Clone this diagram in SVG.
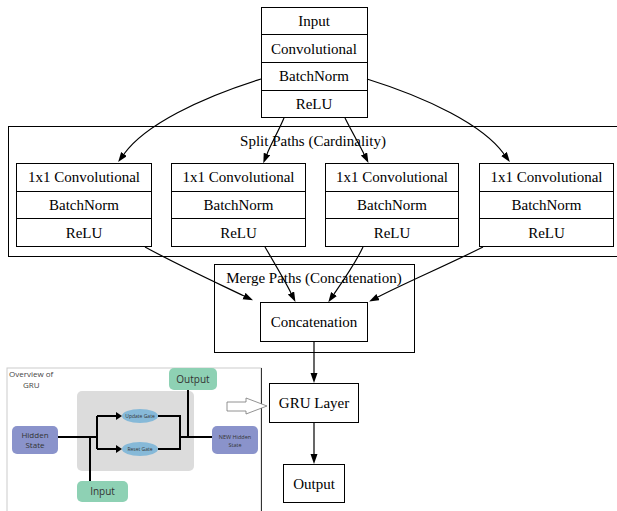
<svg xmlns="http://www.w3.org/2000/svg" width="617" height="511" viewBox="0 0 617 511">
<style>
.box{fill:#fff;stroke:#000;stroke-width:1}
.cl{fill:none;stroke:#000;stroke-width:1}
.t{font-family:"Liberation Serif","Times New Roman",serif;font-size:15px;fill:#000;text-anchor:middle}
.e{fill:none;stroke:#000;stroke-width:1.2}
.s{font-family:"Open Sans","Liberation Sans",sans-serif;fill:#333;text-anchor:middle}
.w{fill:none;stroke:#000;stroke-width:2}
</style>
<defs>
<marker id="ah" markerUnits="userSpaceOnUse" markerWidth="11" markerHeight="8" refX="0" refY="3.5" orient="auto">
<path d="M0,0 L10,3.5 L0,7 z" fill="#000"/>
</marker>
</defs>
<rect width="617" height="511" fill="#fff"/>

<g id="cluster_split">
<rect class="cl" x="8.5" y="126.5" width="612" height="130"/>
<text class="t" x="313" y="146">Split Paths (Cardinality)</text>
</g>
<g id="cluster_merge">
<rect class="cl" x="214.5" y="264.5" width="200" height="88"/>
<text class="t" x="314" y="283">Merge Paths (Concatenation)</text>
</g>

<g id="input">
<rect class="box" x="261.5" y="7.5" width="106" height="110"/>
<line class="box" x1="261.5" y1="34.5" x2="367.5" y2="34.5"/>
<line class="box" x1="261.5" y1="62.5" x2="367.5" y2="62.5"/>
<line class="box" x1="261.5" y1="90.5" x2="367.5" y2="90.5"/>
<text class="t" x="314" y="26">Input</text>
<text class="t" x="314" y="53.5">Convolutional</text>
<text class="t" x="314" y="81">BatchNorm</text>
<text class="t" x="314" y="108.5">ReLU</text>
</g>

<g id="path1">
<rect class="box" x="16.5" y="163.5" width="135" height="83"/>
<line class="box" x1="16.5" y1="191.5" x2="151.5" y2="191.5"/>
<line class="box" x1="16.5" y1="218.5" x2="151.5" y2="218.5"/>
<text class="t" x="84" y="182">1x1 Convolutional</text>
<text class="t" x="84" y="210">BatchNorm</text>
<text class="t" x="84" y="238">ReLU</text>
</g>
<g id="path2">
<rect class="box" x="171.5" y="163.5" width="134" height="83"/>
<line class="box" x1="171.5" y1="191.5" x2="305.5" y2="191.5"/>
<line class="box" x1="171.5" y1="218.5" x2="305.5" y2="218.5"/>
<text class="t" x="238.5" y="182">1x1 Convolutional</text>
<text class="t" x="238.5" y="210">BatchNorm</text>
<text class="t" x="238.5" y="238">ReLU</text>
</g>
<g id="path3">
<rect class="box" x="325.5" y="163.5" width="133" height="83"/>
<line class="box" x1="325.5" y1="191.5" x2="458.5" y2="191.5"/>
<line class="box" x1="325.5" y1="218.5" x2="458.5" y2="218.5"/>
<text class="t" x="392" y="182">1x1 Convolutional</text>
<text class="t" x="392" y="210">BatchNorm</text>
<text class="t" x="392" y="238">ReLU</text>
</g>
<g id="path4">
<rect class="box" x="479.5" y="163.5" width="134" height="83"/>
<line class="box" x1="479.5" y1="191.5" x2="613.5" y2="191.5"/>
<line class="box" x1="479.5" y1="218.5" x2="613.5" y2="218.5"/>
<text class="t" x="546.5" y="182">1x1 Convolutional</text>
<text class="t" x="546.5" y="210">BatchNorm</text>
<text class="t" x="546.5" y="238">ReLU</text>
</g>

<g id="concat">
<rect class="box" x="260.5" y="302.5" width="107" height="39"/>
<text class="t" x="314" y="327">Concatenation</text>
</g>
<g id="gru">
<rect class="box" x="269.5" y="383.5" width="89" height="39"/>
<text class="t" x="314" y="408">GRU Layer</text>
</g>
<g id="output">
<rect class="box" x="283.5" y="464.5" width="61" height="38"/>
<text class="t" x="314" y="489">Output</text>
</g>

<g id="edges">
<path class="e" marker-end="url(#ah)" d="M261,79 C200,98 145,125 124,154"/>
<path class="e" marker-end="url(#ah)" d="M284,118 C278,132 271,144 267,154"/>
<path class="e" marker-end="url(#ah)" d="M345,118 C352,132 359,144 364,154"/>
<path class="e" marker-end="url(#ah)" d="M367,79 C428,98 483,125 504,154"/>
<path class="e" marker-end="url(#ah)" d="M145,247 C180,266 215,282 244,296"/>
<path class="e" marker-end="url(#ah)" d="M265,247 C275,264 285,281 291,293"/>
<path class="e" marker-end="url(#ah)" d="M363,247 C355,264 343,281 334,294"/>
<path class="e" marker-end="url(#ah)" d="M483,247 C445,266 405,283 378,297"/>
<path class="e" marker-end="url(#ah)" d="M314,342 L314,373"/>
<path class="e" marker-end="url(#ah)" d="M314,423 L314,454"/>
</g>

<g id="gru_overview">
<rect x="7" y="368" width="254" height="150" fill="#fff" stroke="#ccc" stroke-width="1"/>
<line x1="261.5" y1="368" x2="261.5" y2="511" stroke="#333" stroke-width="1"/>
<text x="9" y="377" font-family="'Open Sans','Liberation Sans',sans-serif" font-size="8" fill="#444">Overview of</text>
<text x="23" y="388" font-family="'Open Sans','Liberation Sans',sans-serif" font-size="8" fill="#444">GRU</text>
<rect x="77" y="391" width="117" height="80" rx="5" fill="#dcdcdc"/>
<path class="w" d="M58,437 L97,437 M90,437 L90,481 M97,416 L97,449 M97,416 L116,416 M97,449 L116,449"/>
<path d="M116,412 L122,416 L116,420 z M116,445 L122,449 L116,453 z" fill="#000"/>
<path class="w" d="M158,416 L180,416 L180,449 L158,449 M180,437 L212,437 M188,437 L188,390"/>
<ellipse cx="140" cy="416" rx="18" ry="7" fill="#86b9d8"/>
<ellipse cx="140" cy="449" rx="18" ry="7" fill="#86b9d8"/>
<text class="s" x="140" y="418" font-size="5">Update Gate</text>
<text class="s" x="140" y="451" font-size="5">Reset Gate</text>
<rect x="12" y="426" width="46" height="28" rx="5" fill="#8a93cb"/>
<text class="s" x="35" y="438" font-size="8">Hidden</text>
<text class="s" x="35" y="448" font-size="8">State</text>
<rect x="212" y="426" width="46" height="28" rx="5" fill="#8a93cb"/>
<text class="s" x="235" y="439" font-size="5.5">NEW Hidden</text>
<text class="s" x="235" y="447" font-size="5.5">State</text>
<rect x="169" y="368" width="48" height="22" rx="5" fill="#8ed1b4"/>
<text class="s" x="193" y="383" font-size="10">Output</text>
<rect x="77" y="481" width="51" height="21" rx="5" fill="#8ed1b4"/>
<text class="s" x="102.5" y="495" font-size="10">Input</text>
</g>

<g id="hollow_arrow">
<path d="M227,402 L246,402 L246,398 L267,406 L246,414 L246,411 L227,411 Z" fill="#fff" stroke="#777" stroke-width="0.8"/>
</g>
</svg>
